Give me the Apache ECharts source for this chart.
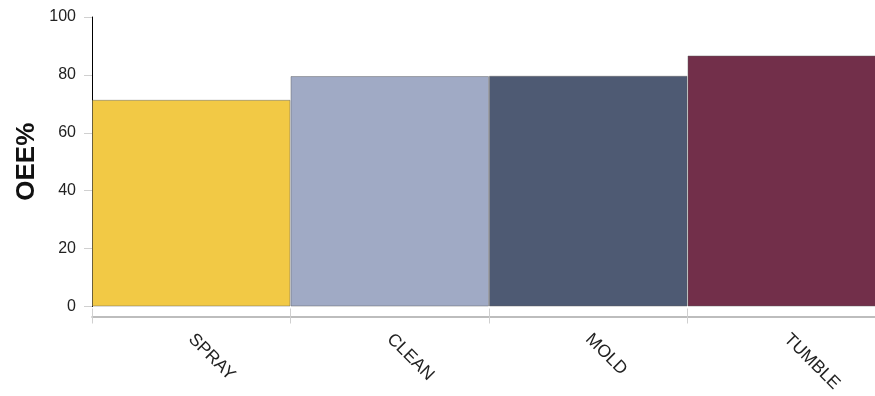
<!DOCTYPE html>
<html><head><meta charset="utf-8">
<script src="https://cdn.jsdelivr.net/npm/echarts@6/dist/echarts.min.js"></script>
<style>html,body{margin:0;padding:0;background:#fff}#c{width:875px;height:396px}</style>
</head><body><div id="c"></div>
<script>
const categories = ['SPRAY', 'CLEAN', 'MOLD', 'TUMBLE'];
const oeeValues = [71.4, 79.6, 79.7, 86.7];
const barColors = ['#F2C945', '#A0AAC5', '#4E5A73', '#722F4A'];
const yTicks = [0, 20, 40, 60, 80, 100];

const font = 'Liberation Sans, Arial, sans-serif';
const chart = echarts.init(document.getElementById('c'), null, {renderer: 'canvas'});
chart.setOption({
  animation: false,
  grid: {left: 92, width: 794, top: 17, bottom: 89.5, containLabel: false, outerBoundsMode: 'none'},
  xAxis: [{
    type: 'category', data: categories, offset: 10,
    axisLine: {onZero: false, lineStyle: {color: '#a8a8a8', width: 1.5}},
    axisTick: {show: true, length: 7, lineStyle: {color: '#d0d0d0'}},
    axisLabel: {rotate: -45, margin: 20, color: '#222', fontSize: 17.5, fontFamily: font},
    splitLine: {show: false}
  }, {
    type: 'category', data: categories, position: 'bottom', offset: 10,
    axisLine: {show: false, onZero: false},
    axisTick: {show: true, inside: true, length: 8, lineStyle: {color: '#d0d0d0'}},
    axisLabel: {show: false},
    splitLine: {show: false}
  }],
  yAxis: {
    type: 'value', min: yTicks[0], max: yTicks[yTicks.length - 1], interval: 20,
    name: 'OEE%', nameLocation: 'middle', nameGap: 52, nameRotate: 90, nameMoveOverlap: false,
    nameTextStyle: {fontSize: 26, fontWeight: 'bold', color: '#111', fontFamily: font},
    axisLine: {show: true, lineStyle: {color: '#000', width: 1}},
    axisTick: {show: true, length: 8, lineStyle: {color: '#d0d0d0'}},
    axisLabel: {margin: 16, color: '#222', fontSize: 16, fontFamily: font},
    splitLine: {show: false}
  },
  series: [{
    type: 'bar', barCategoryGap: 0, xAxisIndex: 0,
    data: oeeValues.map((v, i) => ({value: v, itemStyle: {color: barColors[i]}})),
    itemStyle: {borderColor: 'rgba(90,90,90,0.45)', borderWidth: 1}
  }]
});
</script></body></html>
